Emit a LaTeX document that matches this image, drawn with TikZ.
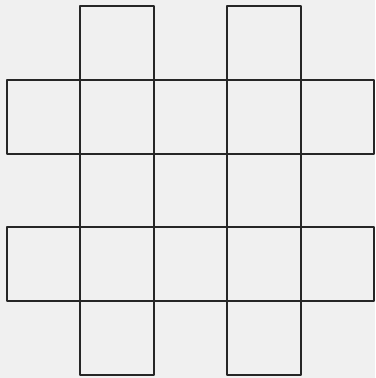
\documentclass[tikz,border=0pt]{standalone}
\definecolor{paper}{gray}{0.94}
\definecolor{ink}{gray}{0.15}
\begin{document}
\begin{tikzpicture}[x=0.02cm, y=-0.02cm, line join=round,
    cellline/.style={draw=ink, line width=1.2pt}]
    % 紙の地と図の大きさ
    \fill[paper] (0,0) rectangle (375,378);
    \useasboundingbox (0,0) rectangle (375,378);

    % 縦の2列（列1と列3，5マスずつ）
    \foreach \c in {1,3}
      \foreach \r in {0,...,4}
        \draw[cellline] ({7+73.4*\c},{6+73.8*\r}) rectangle +(73.4,73.8);

    % 横の2行（行1と行3，5マスずつ）
    \foreach \r in {1,3}
      \foreach \c in {0,...,4}
        \draw[cellline] ({7+73.4*\c},{6+73.8*\r}) rectangle +(73.4,73.8);
  \end{tikzpicture}
\end{document}
